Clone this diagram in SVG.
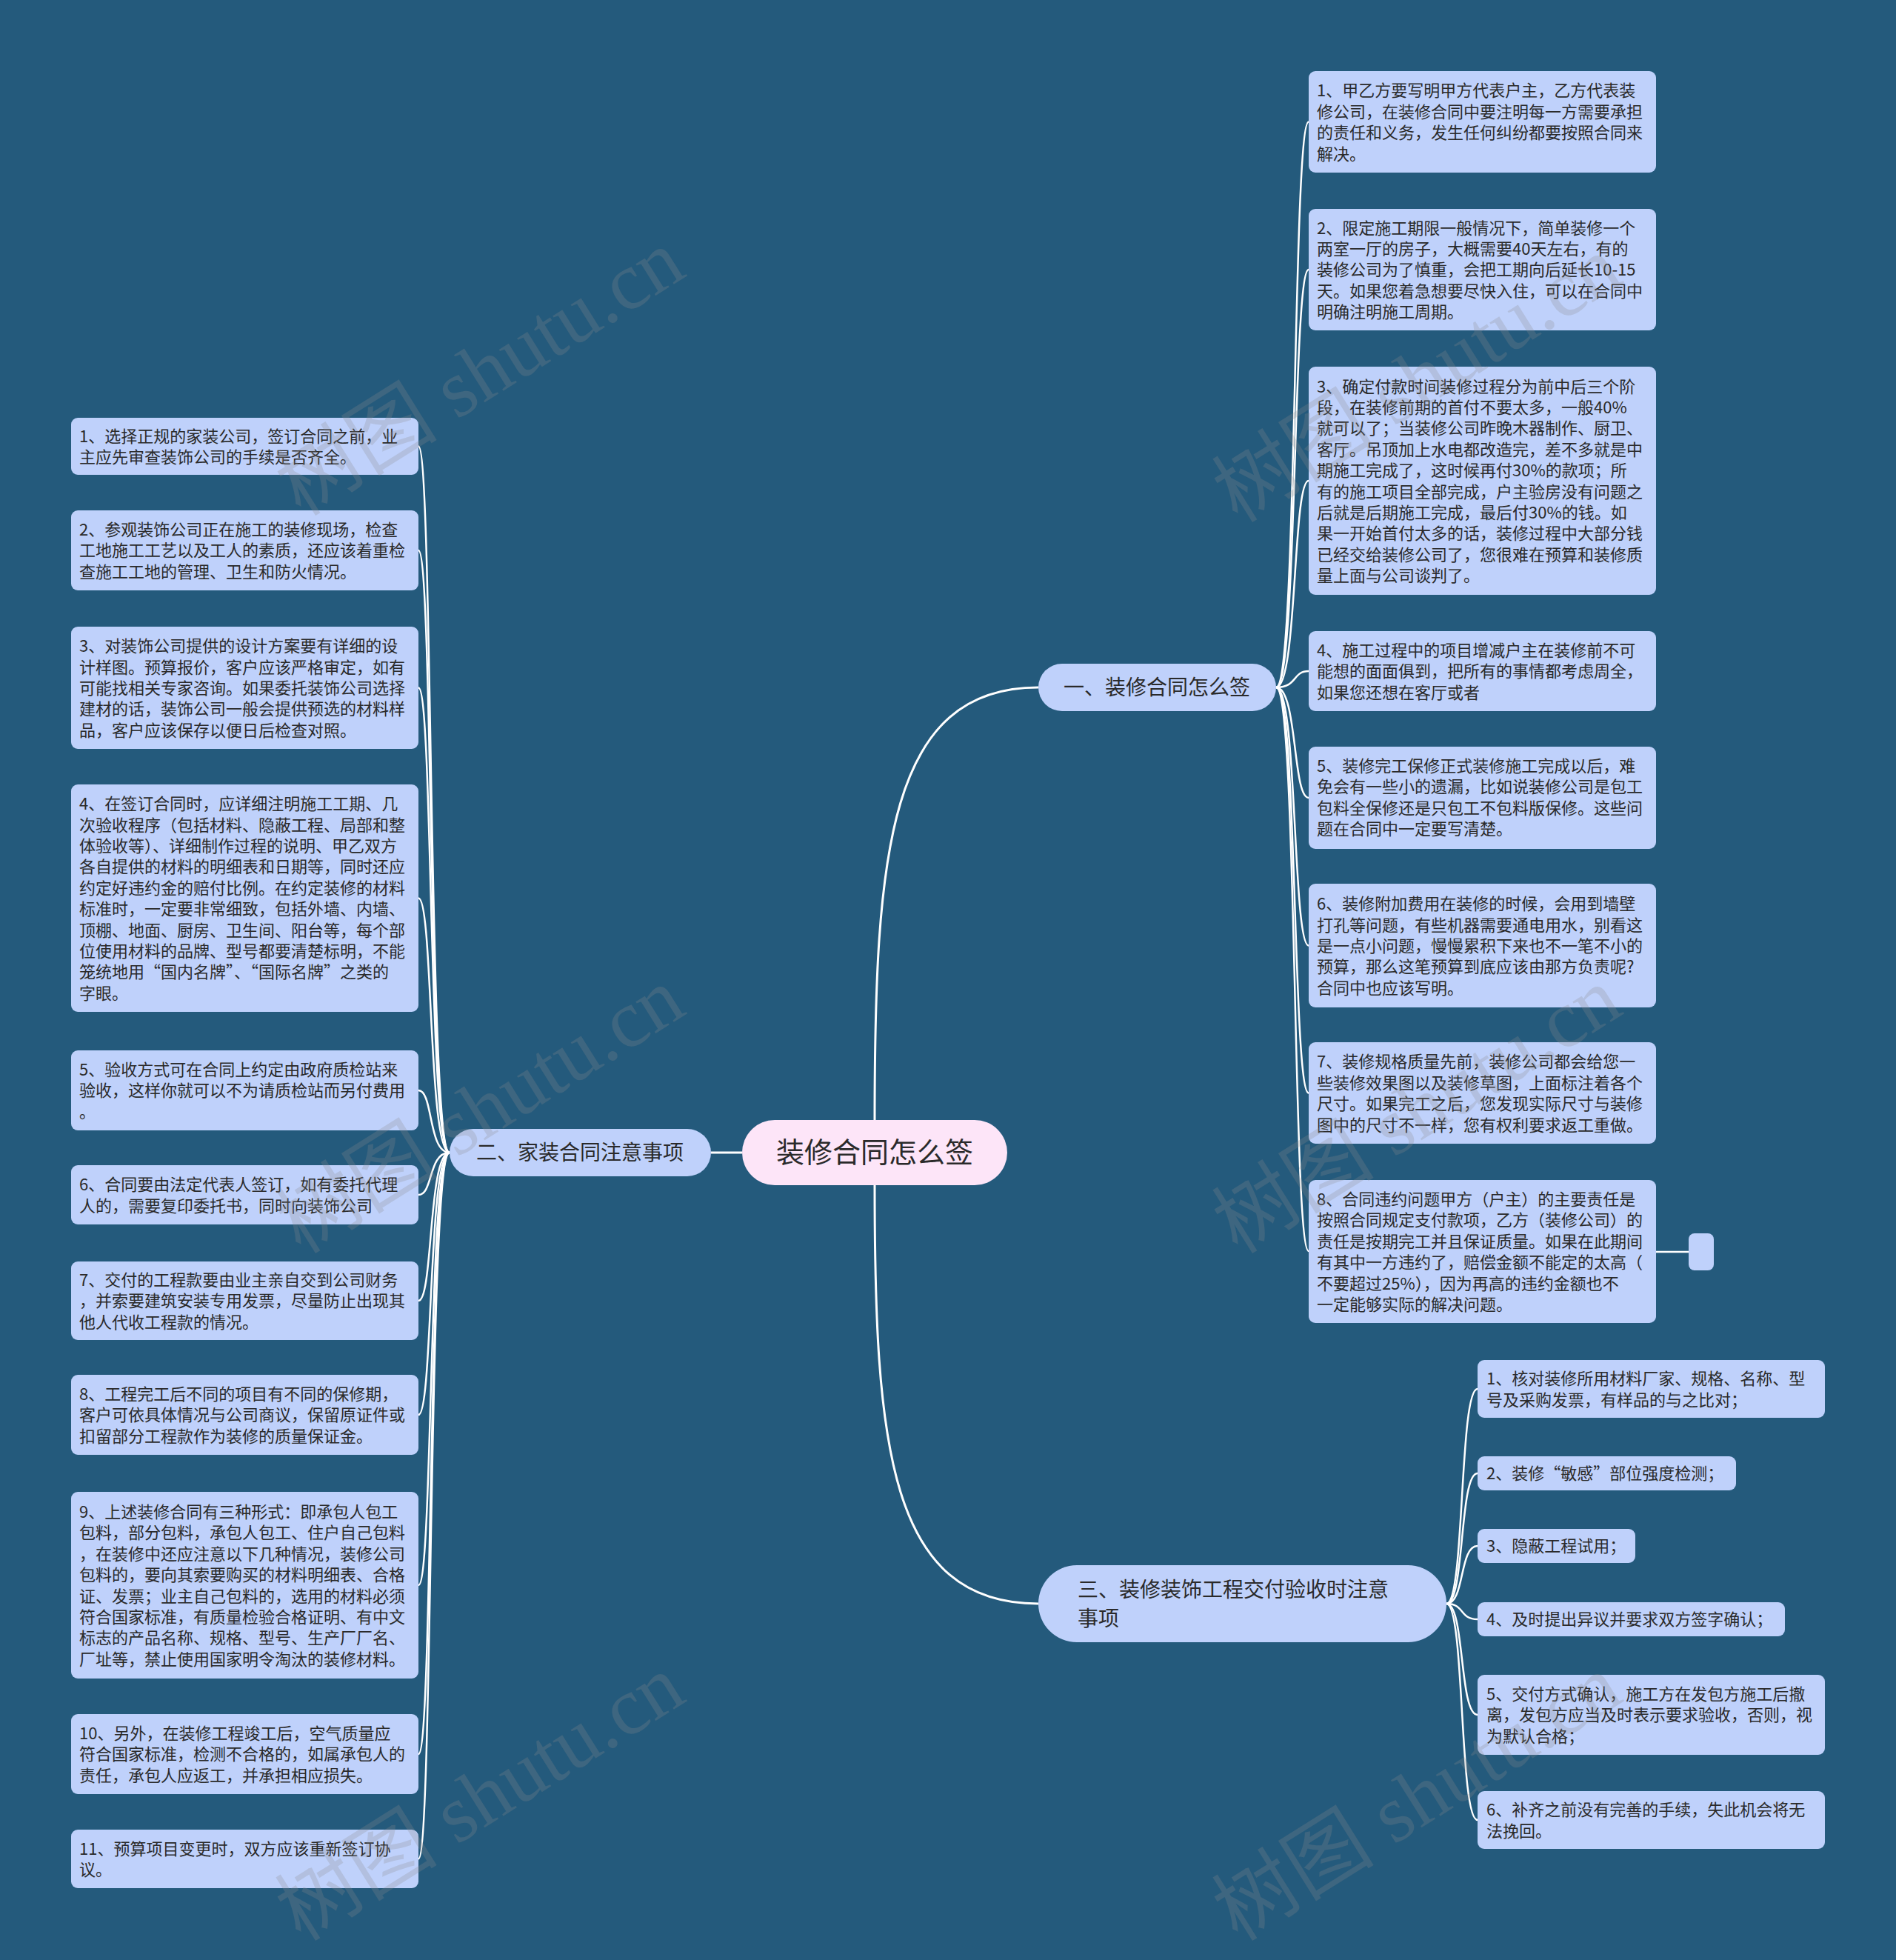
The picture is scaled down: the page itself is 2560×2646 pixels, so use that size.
<svg xmlns="http://www.w3.org/2000/svg" width="2560" height="2646" viewBox="0 0 2560 2646">
<style>
.bg{fill:#245a7c}
.leaf{fill:#bfd1fb}
.branch{fill:#bfd1fb}
.root{fill:#fde5f8}
.t{font-family:"Noto Sans CJK SC","Noto Sans",sans-serif;font-size:22px;fill:#2a2a2a}
.bt{font-family:"Noto Sans CJK SC","Noto Sans",sans-serif;font-size:28px;fill:#2a2a2a}
.rt{font-family:"Noto Sans CJK SC","Noto Sans",sans-serif;font-size:38px;fill:#2a2a2a}
.ln{fill:none;stroke:#ffffff;stroke-width:2.5}
.trunk{fill:none;stroke:#ffffff;stroke-width:3}
.wm{font-family:"Liberation Serif","Noto Sans CJK SC",serif;font-size:110px;fill:#8a8a8a;fill-opacity:0.25}
</style>
<rect class="bg" x="0" y="0" width="2560" height="2646"/>

<g id="connectors">
  <path class="trunk" d="M1181 1512 C1181 1150 1200 928 1402 928"/>
  <path class="trunk" d="M1181 1600 C1181 1950 1200 2165 1402 2165"/>
  <path class="trunk" d="M1002 1556 L960 1556"/>
  <path class="ln" d="M1723 928 C1752 928 1745 164.5 1767 164.5"/>
  <path class="ln" d="M1723 928 C1752 928 1745 364 1767 364"/>
  <path class="ln" d="M1723 928 C1752 928 1745 649 1767 649"/>
  <path class="ln" d="M1723 928 C1752 928 1745 906 1767 906"/>
  <path class="ln" d="M1723 928 C1752 928 1745 1077 1767 1077"/>
  <path class="ln" d="M1723 928 C1752 928 1745 1276.5 1767 1276.5"/>
  <path class="ln" d="M1723 928 C1752 928 1745 1475.5 1767 1475.5"/>
  <path class="ln" d="M1723 928 C1752 928 1745 1689 1767 1689"/>
  <path class="ln" d="M2236 1690 L2280 1690"/>
  <path class="ln" d="M607 1556 C578 1556 585 602.5 565 602.5"/>
  <path class="ln" d="M607 1556 C578 1556 585 743 565 743"/>
  <path class="ln" d="M607 1556 C578 1556 585 928.5 565 928.5"/>
  <path class="ln" d="M607 1556 C578 1556 585 1212.5 565 1212.5"/>
  <path class="ln" d="M607 1556 C578 1556 585 1472 565 1472"/>
  <path class="ln" d="M607 1556 C578 1556 585 1613 565 1613"/>
  <path class="ln" d="M607 1556 C578 1556 585 1756 565 1756"/>
  <path class="ln" d="M607 1556 C578 1556 585 1910 565 1910"/>
  <path class="ln" d="M607 1556 C578 1556 585 2140 565 2140"/>
  <path class="ln" d="M607 1556 C578 1556 585 2368 565 2368"/>
  <path class="ln" d="M607 1556 C578 1556 585 2509.5 565 2509.5"/>
  <path class="ln" d="M1953 2165 C1978 2165 1970 1875 1995 1875"/>
  <path class="ln" d="M1953 2165 C1978 2165 1970 1989 1995 1989"/>
  <path class="ln" d="M1953 2165 C1978 2165 1970 2087 1995 2087"/>
  <path class="ln" d="M1953 2165 C1978 2165 1970 2186 1995 2186"/>
  <path class="ln" d="M1953 2165 C1978 2165 1970 2315 1995 2315"/>
  <path class="ln" d="M1953 2165 C1978 2165 1970 2457 1995 2457"/>
</g>

<g id="root">
  <rect class="root" x="1002" y="1512" width="358" height="88" rx="44"/>
  <text class="rt" x="1181" y="1569" text-anchor="middle">装修合同怎么签</text>
</g>

<g id="b1">
  <rect class="branch" x="1402" y="896" width="321" height="64" rx="32"/>
  <text class="bt" x="1562" y="938" text-anchor="middle">一、装修合同怎么签</text>
</g>
<g id="b2">
  <rect class="branch" x="607" y="1524" width="353" height="64" rx="32"/>
  <text class="bt" x="783" y="1566" text-anchor="middle">二、家装合同注意事项</text>
</g>
<g id="b3">
  <rect class="branch" x="1402" y="2113" width="551" height="104" rx="52"/>
  <text class="bt" x="1455" y="2156">三、装修装饰工程交付验收时注意<tspan x="1455" dy="39">事项</tspan></text>
</g>

<g id="r1">
  <rect class="leaf" x="1767" y="96" width="469" height="137" rx="9"/>
  <text class="t" x="1778" y="130.3">1、甲乙方要写明甲方代表户主，乙方代表装<tspan x="1778" dy="28.4">修公司，在装修合同中要注明每一方需要承担</tspan><tspan x="1778" dy="28.4">的责任和义务，发生任何纠纷都要按照合同来</tspan><tspan x="1778" dy="28.4">解决。</tspan></text>
</g>
<g id="r2">
  <rect class="leaf" x="1767" y="282" width="469" height="164" rx="9"/>
  <text class="t" x="1778" y="315.6">2、限定施工期限一般情况下，简单装修一个<tspan x="1778" dy="28.4">两室一厅的房子，大概需要40天左右，有的</tspan><tspan x="1778" dy="28.4">装修公司为了慎重，会把工期向后延长10-15</tspan><tspan x="1778" dy="28.4">天。如果您着急想要尽快入住，可以在合同中</tspan><tspan x="1778" dy="28.4">明确注明施工周期。</tspan></text>
</g>
<g id="r3">
  <rect class="leaf" x="1767" y="495" width="469" height="308" rx="9"/>
  <text class="t" x="1778" y="529.6">3、确定付款时间装修过程分为前中后三个阶<tspan x="1778" dy="28.4">段，在装修前期的首付不要太多，一般40%</tspan><tspan x="1778" dy="28.4">就可以了；当装修公司昨晚木器制作、厨卫、</tspan><tspan x="1778" dy="28.4">客厅。吊顶加上水电都改造完，差不多就是中</tspan><tspan x="1778" dy="28.4">期施工完成了，这时候再付30%的款项；所</tspan><tspan x="1778" dy="28.4">有的施工项目全部完成，户主验房没有问题之</tspan><tspan x="1778" dy="28.4">后就是后期施工完成，最后付30%的钱。如</tspan><tspan x="1778" dy="28.4">果一开始首付太多的话，装修过程中大部分钱</tspan><tspan x="1778" dy="28.4">已经交给装修公司了，您很难在预算和装修质</tspan><tspan x="1778" dy="28.4">量上面与公司谈判了。</tspan></text>
</g>
<g id="r4">
  <rect class="leaf" x="1767" y="852" width="469" height="108" rx="9"/>
  <text class="t" x="1778" y="886">4、施工过程中的项目增减户主在装修前不可<tspan x="1778" dy="28.4">能想的面面俱到，把所有的事情都考虑周全，</tspan><tspan x="1778" dy="28.4">如果您还想在客厅或者</tspan></text>
</g>
<g id="r5">
  <rect class="leaf" x="1767" y="1008" width="469" height="138" rx="9"/>
  <text class="t" x="1778" y="1041.8">5、装修完工保修正式装修施工完成以后，难<tspan x="1778" dy="28.4">免会有一些小的遗漏，比如说装修公司是包工</tspan><tspan x="1778" dy="28.4">包料全保修还是只包工不包料版保修。这些问</tspan><tspan x="1778" dy="28.4">题在合同中一定要写清楚。</tspan></text>
</g>
<g id="r6">
  <rect class="leaf" x="1767" y="1193" width="469" height="167" rx="9"/>
  <text class="t" x="1778" y="1228.1">6、装修附加费用在装修的时候，会用到墙壁<tspan x="1778" dy="28.4">打孔等问题，有些机器需要通电用水，别看这</tspan><tspan x="1778" dy="28.4">是一点小问题，慢慢累积下来也不一笔不小的</tspan><tspan x="1778" dy="28.4">预算，那么这笔预算到底应该由那方负责呢?</tspan><tspan x="1778" dy="28.4">合同中也应该写明。</tspan></text>
</g>
<g id="r7">
  <rect class="leaf" x="1767" y="1407" width="469" height="137" rx="9"/>
  <text class="t" x="1778" y="1441.3">7、装修规格质量先前，装修公司都会给您一<tspan x="1778" dy="28.4">些装修效果图以及装修草图，上面标注着各个</tspan><tspan x="1778" dy="28.4">尺寸。如果完工之后，您发现实际尺寸与装修</tspan><tspan x="1778" dy="28.4">图中的尺寸不一样，您有权利要求返工重做。</tspan></text>
</g>
<g id="r8">
  <rect class="leaf" x="1767" y="1593" width="469" height="193" rx="9"/>
  <text class="t" x="1778" y="1627">8、合同违约问题甲方（户主）的主要责任是<tspan x="1778" dy="28.4">按照合同规定支付款项，乙方（装修公司）的</tspan><tspan x="1778" dy="28.4">责任是按期完工并且保证质量。如果在此期间</tspan><tspan x="1778" dy="28.4">有其中一方违约了，赔偿金额不能定的太高（</tspan><tspan x="1778" dy="28.4">不要超过25%），因为再高的违约金额也不</tspan><tspan x="1778" dy="28.4">一定能够实际的解决问题。</tspan></text>
</g>
<g id="r8a">
  <rect class="leaf" x="2280" y="1665" width="34" height="50" rx="8"/>
</g>

<g id="l1">
  <rect class="leaf" x="96" y="564" width="469" height="77" rx="9"/>
  <text class="t" x="107" y="596.7">1、选择正规的家装公司，签订合同之前，业<tspan x="107" dy="28.4">主应先审查装饰公司的手续是否齐全。</tspan></text>
</g>
<g id="l2">
  <rect class="leaf" x="96" y="689" width="469" height="108" rx="9"/>
  <text class="t" x="107" y="723">2、参观装饰公司正在施工的装修现场，检查<tspan x="107" dy="28.4">工地施工工艺以及工人的素质，还应该着重检</tspan><tspan x="107" dy="28.4">查施工工地的管理、卫生和防火情况。</tspan></text>
</g>
<g id="l3">
  <rect class="leaf" x="96" y="846" width="469" height="165" rx="9"/>
  <text class="t" x="107" y="880.1">3、对装饰公司提供的设计方案要有详细的设<tspan x="107" dy="28.4">计样图。预算报价，客户应该严格审定，如有</tspan><tspan x="107" dy="28.4">可能找相关专家咨询。如果委托装饰公司选择</tspan><tspan x="107" dy="28.4">建材的话，装饰公司一般会提供预选的材料样</tspan><tspan x="107" dy="28.4">品，客户应该保存以便日后检查对照。</tspan></text>
</g>
<g id="l4">
  <rect class="leaf" x="96" y="1059" width="469" height="307" rx="9"/>
  <text class="t" x="107" y="1093.1">4、在签订合同时，应详细注明施工工期、几<tspan x="107" dy="28.4">次验收程序（包括材料、隐蔽工程、局部和整</tspan><tspan x="107" dy="28.4">体验收等）、详细制作过程的说明、甲乙双方</tspan><tspan x="107" dy="28.4">各自提供的材料的明细表和日期等，同时还应</tspan><tspan x="107" dy="28.4">约定好违约金的赔付比例。在约定装修的材料</tspan><tspan x="107" dy="28.4">标准时，一定要非常细致，包括外墙、内墙、</tspan><tspan x="107" dy="28.4">顶棚、地面、厨房、卫生间、阳台等，每个部</tspan><tspan x="107" dy="28.4">位使用材料的品牌、型号都要清楚标明，不能</tspan><tspan x="107" dy="28.4">笼统地用“国内名牌”、“国际名牌”之类的</tspan><tspan x="107" dy="28.4">字眼。</tspan></text>
</g>
<g id="l5">
  <rect class="leaf" x="96" y="1418" width="469" height="108" rx="9"/>
  <text class="t" x="107" y="1452">5、验收方式可在合同上约定由政府质检站来<tspan x="107" dy="28.4">验收，这样你就可以不为请质检站而另付费用</tspan><tspan x="107" dy="28.4">。</tspan></text>
</g>
<g id="l6">
  <rect class="leaf" x="96" y="1573" width="469" height="80" rx="9"/>
  <text class="t" x="107" y="1607.2">6、合同要由法定代表人签订，如有委托代理<tspan x="107" dy="28.4">人的，需要复印委托书，同时向装饰公司</tspan></text>
</g>
<g id="l7">
  <rect class="leaf" x="96" y="1703" width="469" height="106" rx="9"/>
  <text class="t" x="107" y="1736">7、交付的工程款要由业主亲自交到公司财务<tspan x="107" dy="28.4">，并索要建筑安装专用发票，尽量防止出现其</tspan><tspan x="107" dy="28.4">他人代收工程款的情况。</tspan></text>
</g>
<g id="l8">
  <rect class="leaf" x="96" y="1856" width="469" height="108" rx="9"/>
  <text class="t" x="107" y="1890">8、工程完工后不同的项目有不同的保修期，<tspan x="107" dy="28.4">客户可依具体情况与公司商议，保留原证件或</tspan><tspan x="107" dy="28.4">扣留部分工程款作为装修的质量保证金。</tspan></text>
</g>
<g id="l9">
  <rect class="leaf" x="96" y="2014" width="469" height="252" rx="9"/>
  <text class="t" x="107" y="2049">9、上述装修合同有三种形式：即承包人包工<tspan x="107" dy="28.4">包料，部分包料，承包人包工、住户自己包料</tspan><tspan x="107" dy="28.4">，在装修中还应注意以下几种情况，装修公司</tspan><tspan x="107" dy="28.4">包料的，要向其索要购买的材料明细表、合格</tspan><tspan x="107" dy="28.4">证、发票；业主自己包料的，选用的材料必须</tspan><tspan x="107" dy="28.4">符合国家标准，有质量检验合格证明、有中文</tspan><tspan x="107" dy="28.4">标志的产品名称、规格、型号、生产厂厂名、</tspan><tspan x="107" dy="28.4">厂址等，禁止使用国家明令淘汰的装修材料。</tspan></text>
</g>
<g id="l10">
  <rect class="leaf" x="96" y="2314" width="469" height="108" rx="9"/>
  <text class="t" x="107" y="2348">10、另外，在装修工程竣工后，空气质量应<tspan x="107" dy="28.4">符合国家标准，检测不合格的，如属承包人的</tspan><tspan x="107" dy="28.4">责任，承包人应返工，并承担相应损失。</tspan></text>
</g>
<g id="l11">
  <rect class="leaf" x="96" y="2470" width="469" height="79" rx="9"/>
  <text class="t" x="107" y="2503.7">11、预算项目变更时，双方应该重新签订协<tspan x="107" dy="28.4">议。</tspan></text>
</g>

<g id="t1">
  <rect class="leaf" x="1995" y="1836" width="469" height="78" rx="9"/>
  <text class="t" x="2007" y="1869.2">1、核对装修所用材料厂家、规格、名称、型<tspan x="2007" dy="28.4">号及采购发票，有样品的与之比对；</tspan></text>
</g>
<g id="t2">
  <rect class="leaf" x="1995" y="1966" width="349" height="46" rx="9"/>
  <text class="t" x="2007" y="1997.4">2、装修“敏感”部位强度检测；</text>
</g>
<g id="t3">
  <rect class="leaf" x="1995" y="2064" width="213" height="46" rx="9"/>
  <text class="t" x="2007" y="2095.4">3、隐蔽工程试用；</text>
</g>
<g id="t4">
  <rect class="leaf" x="1995" y="2163" width="415" height="46" rx="9"/>
  <text class="t" x="2007" y="2194.4">4、及时提出异议并要求双方签字确认；</text>
</g>
<g id="t5">
  <rect class="leaf" x="1995" y="2261" width="469" height="108" rx="9"/>
  <text class="t" x="2007" y="2295">5、交付方式确认，施工方在发包方施工后撤<tspan x="2007" dy="28.4">离，发包方应当及时表示要求验收，否则，视</tspan><tspan x="2007" dy="28.4">为默认合格；</tspan></text>
</g>
<g id="t6">
  <rect class="leaf" x="1995" y="2418" width="469" height="78" rx="9"/>
  <text class="t" x="2007" y="2451.2">6、补齐之前没有完善的手续，失此机会将无<tspan x="2007" dy="28.4">法挽回。</tspan></text>
</g>

<g id="watermarks">
  <text class="wm" x="650" y="540" text-anchor="middle" transform="rotate(-32 650 506)">树图 shutu.cn</text>
  <text class="wm" x="650" y="1536" text-anchor="middle" transform="rotate(-32 650 1502)">树图 shutu.cn</text>
  <text class="wm" x="650" y="2464" text-anchor="middle" transform="rotate(-32 650 2430)">树图 shutu.cn</text>
  <text class="wm" x="1915" y="549" text-anchor="middle" transform="rotate(-32 1915 515)">树图 shutu.cn</text>
  <text class="wm" x="1915" y="1536" text-anchor="middle" transform="rotate(-32 1915 1502)">树图 shutu.cn</text>
  <text class="wm" x="1915" y="2464" text-anchor="middle" transform="rotate(-32 1915 2430)">树图 shutu.cn</text>
</g>
</svg>
